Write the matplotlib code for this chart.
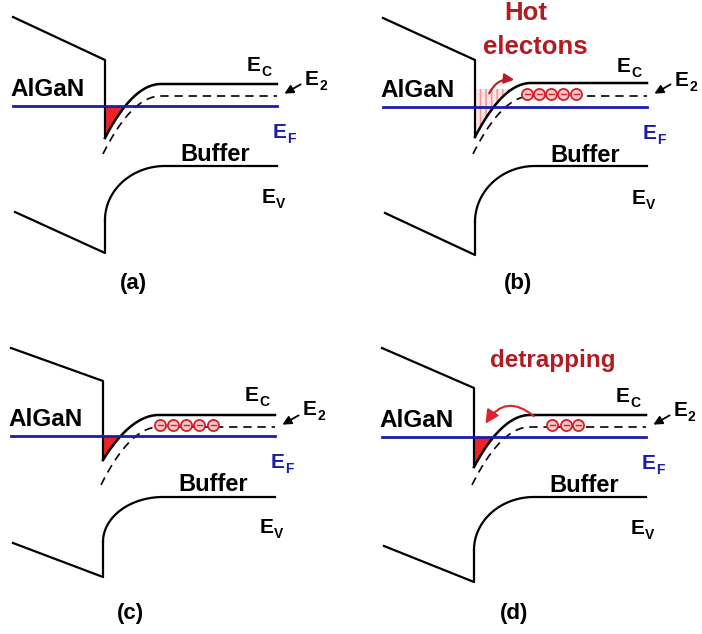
import matplotlib
matplotlib.use('Agg')
import matplotlib.pyplot as plt
from matplotlib.patches import FancyArrowPatch
import numpy as np

plt.rcParams['font.family'] = ['Liberation Sans', 'DejaVu Sans']
plt.rcParams['hatch.linewidth'] = 1.2

# 四个子图的能带参数（像素坐标，y 向下）
panel_names = ['(a)', '(b)', '(c)', '(d)']
iface_x = [105, 475, 103, 474]        # AlGaN/GaN 界面位置
fermi_y = [106, 107, 436, 437]        # E_F
ec_flat = [84, 83, 415, 415]          # 体内 E_C
ec_bottom = [138, 137, 460, 467]      # 界面处 E_C 最低点
e2_flat = [96, 96, 427, 427]          # 陷阱能级 E_2
ev_flat = [166, 166, 497, 497]        # 体内 E_V
ev_knee = [220, 222, 542, 550]        # E_V 弯曲起点
barrier_left = [17, 18, 348, 348]     # AlGaN E_C 左端
barrier_top = [60, 60, 381, 388]      # AlGaN E_C 右端
valence_left = [212, 213, 543, 546]   # AlGaN E_V 左端
valence_bottom = [253, 255, 577, 582] # AlGaN E_V 右端
label_x = [133, 518, 130, 514]

# 陷阱电子位置（相对界面）
electron_dx = [[], [52, 64, 76, 88, 101], [57, 70, 83, 96, 110], [78, 92, 104]]
red_fill = [True, False, True, True]

fig = plt.figure(figsize=(7.02, 6.34), dpi=100)
ax = fig.add_axes([0, 0, 1, 1])
ax.set_xlim(0, 702)
ax.set_ylim(634, 0)
ax.axis('off')

W = 56.0      # 能带弯曲宽度
span = 172    # 界面到右端
blue = '#1c1ca6'
dark_red = '#b01c22'


def e_label(x, y, sub, color='black'):
    ax.text(x, y, 'E', fontsize=15, weight='bold', color=color, va='baseline', ha='left')
    ax.text(x + 14, y + 5, sub, fontsize=10, weight='bold', color=color, va='baseline', ha='left')


for i in range(4):
    x0 = iface_x[i]
    ef = fermi_y[i]
    xr = x0 + span
    lw = 1.6

    # AlGaN 侧
    ax.plot([x0 - 92, x0, x0], [barrier_left[i], barrier_top[i], ec_bottom[i]], color='black', lw=lw)
    ax.plot([x0 - 90, x0, x0], [valence_left[i], valence_bottom[i], ev_knee[i]], color='black', lw=lw)

    # E_C 弯曲（抛物线）
    u = np.linspace(0, 1, 120)
    cx = x0 + W * u
    cy = ec_flat[i] + (ec_bottom[i] - ec_flat[i]) * (1 - u) ** 2
    ax.plot(np.r_[cx, xr], np.r_[cy, ec_flat[i]], color='black', lw=lw + 0.2)

    # E_2 虚线
    u2 = np.linspace(-2 / W, 1, 120)
    dx_ = x0 + W * u2
    dy_ = e2_flat[i] + 54 * (1 - u2) ** 2
    ax.plot(np.r_[dx_, xr], np.r_[dy_, e2_flat[i]], color='black', lw=1.2, ls=(0, (5, 3.5)))

    # E_V 弯曲（椭圆）
    t = np.linspace(0, np.pi / 2, 100)
    vx = x0 + 60 - 60 * np.cos(t)
    vy = ev_knee[i] - (ev_knee[i] - ev_flat[i]) * np.sin(t)
    ax.plot(np.r_[vx, xr], np.r_[vy, ev_flat[i]], color='black', lw=lw)

    # 二维电子气
    if red_fill[i]:
        yy = np.linspace(ef, ec_bottom[i], 80)
        xx = np.interp(yy, cy[::-1], cx[::-1])
        ax.fill_betweenx(yy, x0, xx, color='#ee2424', lw=0, zorder=1)
    if i == 1:
        yy = np.linspace(ef - 18, ec_bottom[i], 80)
        xx = np.interp(yy, cy[::-1], cx[::-1])
        ax.fill_betweenx(yy, x0 + 1, xx, facecolor='#fde6e6', edgecolor='#f29a9a', hatch='|||', lw=0, zorder=1)

    # E_F
    ax.plot([x0 - 92, xr], [ef, ef], color=blue, lw=2, zorder=2)

    # 陷阱电子
    for d in electron_dx[i]:
        ax.plot(x0 + d, e2_flat[i] - 2, marker='o', ms=8, mfc='#f7c8c8', mec='#d4202a', mew=1.3, zorder=4)
        ax.plot([x0 + d - 2.5, x0 + d + 2.5], [e2_flat[i] - 2, e2_flat[i] - 2], color='#d4202a', lw=1, zorder=5)

    # 文字
    ax.text(x0 - 95, ef - 10, 'AlGaN', fontsize=17.5, weight='bold', va='baseline', ha='left')
    ax.text(x0 + 75, ef + 55, 'Buffer', fontsize=17, weight='bold', va='baseline', ha='left')
    e_label(x0 + 142, ef - 35, 'C')
    e_label(x0 + 200, ef - 21, '2')
    e_label(x0 + 168, ef + 32, 'F', color=blue)
    e_label(x0 + 157, ef + 97, 'V')
    ax.annotate('', xy=(x0 + 177, e2_flat[i] - 1), xytext=(x0 + 198, e2_flat[i] - 13),
                arrowprops=dict(arrowstyle='-|>', color='black', lw=1.3, mutation_scale=13))
    ax.text(label_x[i], ef + 177, panel_names[i], fontsize=16, weight='bold', ha='center', va='center')

# 热电子
ax.text(526, 13, 'Hot', fontsize=18.5, weight='bold', color=dark_red, ha='center', va='center')
ax.text(535, 47, 'electons', fontsize=18.5, weight='bold', color=dark_red, ha='center', va='center')
ax.add_patch(FancyArrowPatch((488, 96), (517, 80), connectionstyle='arc3,rad=-0.4',
                             arrowstyle='-|>', mutation_scale=15, color='#b81c22', lw=1.5, zorder=6))

# 去俘获
ax.text(553, 361, 'detrapping', fontsize=17.5, weight='bold', color=dark_red, ha='center', va='center')
ax.add_patch(FancyArrowPatch((536, 418), (484, 426), connectionstyle='arc3,rad=0.6',
                             arrowstyle='-|>', mutation_scale=20, color='#e0202a', lw=1.5, zorder=6))

fig.savefig('out.png', dpi=100)
